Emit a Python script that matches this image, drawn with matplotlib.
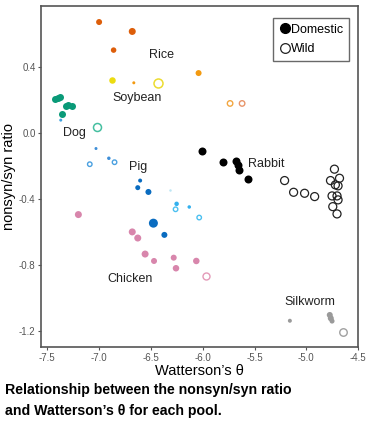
import matplotlib.pyplot as plt
from matplotlib.lines import Line2D

plt.rcParams['font.family'] = ['Liberation Sans', 'DejaVu Sans']

# (x, y, diameter in px, filled)
rice_x = [-7.00, -6.68, -6.86]
rice_y = [0.673, 0.616, 0.503]
rice_d = [6, 7, 5.5]

orange_x = [-6.04, -6.665]
orange_y = [0.364, 0.305]
orange_d = [6, 3]

orange_w_x = [-5.736, -5.62]
orange_w_y = [0.18, 0.18]
orange_w_c = ['#F2A640', '#E8956A']

soy_x = [-6.877]
soy_y = [0.325]
soy_w_x = [-6.43]
soy_w_y = [0.305]

dog_x = [-7.43, -7.40, -7.38, -7.32, -7.30, -7.26, -7.36]
dog_y = [0.204, 0.212, 0.218, 0.164, 0.168, 0.164, 0.115]
dog_w_x = [-7.017]
dog_w_y = [0.036]

pig_x = [-7.37, -7.03, -6.906, -6.604, -6.627, -6.524, -6.252, -6.13, -6.476, -6.37]
pig_y = [0.079, -0.093, -0.152, -0.287, -0.33, -0.356, -0.428, -0.447, -0.545, -0.616]
pig_d = [3, 3, 3.5, 4, 5, 6, 4.5, 3.5, 9, 6]
pig_c = ['#3FA3E0', '#3F8FD8', '#3F8FD8', '#0A6CC0', '#0A6CC0', '#0A6CC0',
         '#33B0EE', '#33B0EE', '#0A6CC0', '#0A6CC0']
pig_w_x = [-7.09, -6.851, -6.262, -6.034]
pig_w_y = [-0.188, -0.176, -0.461, -0.511]
pig_w_c = ['#4AA0E0', '#4AA0E0', '#4CC0F0', '#4CC0F0']
pig_pale_x = [-6.313]
pig_pale_y = [-0.344]

chick_x = [-7.2, -6.68, -6.627, -6.556, -6.47, -6.28, -6.258, -6.062]
chick_y = [-0.493, -0.598, -0.635, -0.732, -0.774, -0.754, -0.818, -0.774]
chick_d = [7, 7, 7, 7, 6, 6, 6.5, 6.5]
chick_w_x = [-5.966]
chick_w_y = [-0.865]

rab_x = [-6.01, -5.803, -5.68, -5.66, -5.649, -5.565]
rab_y = [-0.107, -0.176, -0.168, -0.192, -0.222, -0.277]
rab_w_x = [-5.21, -5.123, -5.017, -4.92, -4.729, -4.767, -4.68, -4.72, -4.694,
           -4.752, -4.704, -4.694, -4.745, -4.704]
rab_w_y = [-0.287, -0.358, -0.364, -0.384, -0.218, -0.287, -0.273, -0.313,
           -0.319, -0.38, -0.38, -0.404, -0.445, -0.489]

silk_x = [-5.159, -4.774, -4.764, -4.752]
silk_y = [-1.136, -1.101, -1.121, -1.138]
silk_d = [4, 6, 6, 5]
silk_w_x = [-4.646]
silk_w_y = [-1.204]

labels = ['Rice', 'Soybean', 'Dog', 'Pig', 'Rabbit', 'Chicken', 'Silkworm']
label_x = [-6.40, -6.633, -7.236, -6.627, -5.386, -6.70, -4.966]
label_y = [0.475, 0.212, 0.004, -0.206, -0.186, -0.881, -1.02]


def s(d):
    return [(v * 0.72) ** 2 for v in d] if isinstance(d, list) else (d * 0.72) ** 2


fig = plt.figure(figsize=(3.7, 4.3), dpi=100)
ax = fig.add_axes([0.111, 0.193, 0.857, 0.793])

ax.scatter(rice_x, rice_y, s=s(rice_d), c='#DD5E0A', linewidths=0, zorder=3)
ax.scatter(orange_x, orange_y, s=s(orange_d), c='#F39A10', linewidths=0, zorder=3)
ax.scatter(orange_w_x, orange_w_y, s=s(5.5), facecolors='white',
           edgecolors=orange_w_c, linewidths=1, zorder=3)
ax.scatter(soy_x, soy_y, s=s(6.5), c='#ECDC10', linewidths=0, zorder=3)
ax.scatter(soy_w_x, soy_w_y, s=s(9), facecolors='white', edgecolors='#ECDC30',
           linewidths=1.1, zorder=3)
ax.scatter(dog_x, dog_y, s=s(7), c='#0A9A78', linewidths=0, zorder=3)
ax.scatter(dog_w_x, dog_w_y, s=s(8), facecolors='white', edgecolors='#45BFA0',
           linewidths=1.1, zorder=3)
ax.scatter(pig_x, pig_y, s=s(pig_d), c=pig_c, linewidths=0, zorder=3)
ax.scatter(pig_w_x, pig_w_y, s=s(4.5), facecolors='white', edgecolors=pig_w_c,
           linewidths=1, zorder=3)
ax.scatter(pig_pale_x, pig_pale_y, s=s(2.5), c='#BDE6F5', linewidths=0, zorder=3)
ax.scatter(chick_x, chick_y, s=s(chick_d), c='#D886AC', linewidths=0, zorder=3)
ax.scatter(chick_w_x, chick_w_y, s=s(7), facecolors='white', edgecolors='#E49AB8',
           linewidths=1, zorder=3)
ax.scatter(rab_x, rab_y, s=s(8), c='black', linewidths=0, zorder=3)
ax.scatter(rab_w_x, rab_w_y, s=s(8), facecolors='none', edgecolors='#222222',
           linewidths=0.9, zorder=3)
ax.scatter(silk_x, silk_y, s=s(silk_d), c='#9A9A9A', linewidths=0, zorder=3)
ax.scatter(silk_w_x, silk_w_y, s=s(7.5), facecolors='white', edgecolors='#A0A0A0',
           linewidths=1, zorder=3)

for t, x, y in zip(labels, label_x, label_y):
    ax.text(x, y, t, ha='center', va='center', fontsize=9, color='#222222')

ax.set_xlim(-7.56, -4.5)
ax.set_ylim(-1.295, 0.77)
ax.set_xticks([-7.5, -7.0, -6.5, -6.0, -5.5, -5.0, -4.5])
ax.set_xticklabels(['-7.5', '-7.0', '-6.5', '-6.0', '-5.5', '-5.0', '-4.5'])
ax.set_yticks([-1.2, -0.8, -0.4, 0.0, 0.4])
ax.set_yticklabels(['-1.2', '-0.8', '-0.4', '0.0', '0.4'])
ax.tick_params(labelsize=7, colors='#555555', length=2.5, width=0.8, pad=1.5)
for sp in ax.spines.values():
    sp.set_color('#555555')
    sp.set_linewidth(1.2)

ax.set_xlabel("Watterson\u2019s \u03b8", fontsize=10.5, labelpad=1)
ax.set_ylabel('nonsyn/syn ratio', fontsize=10.5, labelpad=2)

handles = [Line2D([], [], marker='o', ls='none', color='black', markersize=7),
           Line2D([], [], marker='o', ls='none', markerfacecolor='white',
                  markeredgecolor='#222222', markersize=7, markeredgewidth=0.9)]
leg = ax.legend(handles, ['Domestic', 'Wild'], loc='upper right', fontsize=9,
                frameon=True, fancybox=False, handletextpad=0.0, handlelength=1.0,
                borderpad=0.45, labelspacing=0.6, bbox_to_anchor=(0.97, 0.965),
                borderaxespad=0)
leg.get_frame().set_edgecolor('#444444')
leg.get_frame().set_linewidth(1)

fig.text(0.014, 0.093, 'Relationship between the nonsyn/syn ratio',
         fontsize=10.2, fontweight='bold', va='center')
fig.text(0.014, 0.044, 'and Watterson\u2019s \u03b8 for each pool.',
         fontsize=10.2, fontweight='bold', va='center')

fig.savefig('out.png', dpi=100)
